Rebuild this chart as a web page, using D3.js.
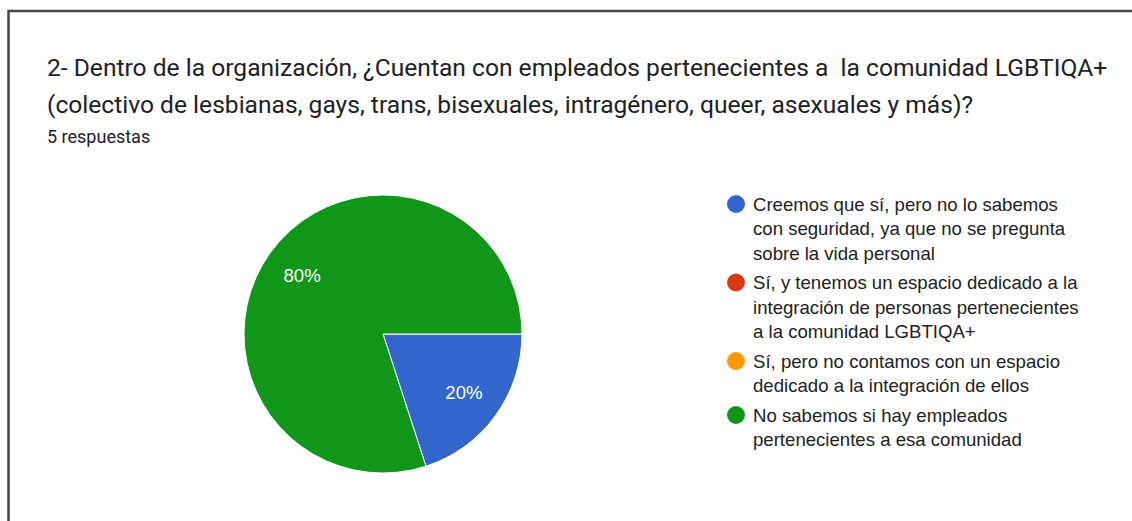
<!DOCTYPE html>
<html>
<head>
<meta charset="utf-8">
<script src="https://cdn.jsdelivr.net/npm/d3@7"></script>
<style>
  html, body { margin: 0; padding: 0; background: #fff; }
  svg { display: block; }
</style>
</head>
<body>
<svg id="chart" width="1132" height="521"></svg>
<script>
const titleLines = [
  "2- Dentro de la organización, ¿Cuentan con empleados pertenecientes a \u00a0la comunidad LGBTIQA+",
  "(colectivo de lesbianas, gays, trans, bisexuales, intragénero, queer, asexuales y más)?"
];
const subtitle = "5 respuestas";
const categories = [
  ["Creemos que sí, pero no lo sabemos", "con seguridad, ya que no se pregunta", "sobre la vida personal"],
  ["Sí, y tenemos un espacio dedicado a la", "integración de personas pertenecientes", "a la comunidad LGBTIQA+"],
  ["Sí, pero no contamos con un espacio", "dedicado a la integración de ellos"],
  ["No sabemos si hay empleados", "pertenecientes a esa comunidad"]
];
const values = [1, 0, 0, 4];
const colors = ["#3366cc", "#dc3912", "#ff9900", "#109618"];

const svg = d3.select("#chart");

// card border (left + top)
svg.append("path")
  .attr("d", "M8.5,521 L8.5,11 L1132,11")
  .attr("fill", "none")
  .attr("stroke", "#464646")
  .attr("stroke-width", 2.5);

// title
const title = svg.append("text")
  .attr("font-family", "Roboto, sans-serif")
  .attr("font-size", 24.6)
  .attr("fill", "#202124");
title.selectAll("tspan").data(titleLines).join("tspan")
  .attr("x", 47)
  .attr("y", (d, i) => 76 + i * 37)
  .text(d => d);

svg.append("text")
  .attr("x", 47).attr("y", 143)
  .attr("font-family", "Roboto, sans-serif")
  .attr("font-size", 18)
  .attr("fill", "#202124")
  .text(subtitle);

// pie
const cx = 383, cy = 334, r = 139;
const data = categories.map((c, i) => ({ label: c, value: values[i], color: colors[i] }));
const total = d3.sum(values);
const pie = d3.pie().sort(null).value(d => d.value)
  .startAngle(Math.PI / 2).endAngle(Math.PI / 2 + 2 * Math.PI);
const arcs = pie(data).filter(d => d.data.value > 0);
const arc = d3.arc().innerRadius(0).outerRadius(r);
const labelArc = d3.arc().innerRadius(100).outerRadius(100);

const g = svg.append("g").attr("transform", `translate(${cx},${cy})`);
g.selectAll("path").data(arcs).join("path")
  .attr("d", arc)
  .attr("fill", d => d.data.color)
  .attr("stroke", "#fff")
  .attr("stroke-width", 1);

g.selectAll("text").data(arcs).join("text")
  .attr("transform", d => `translate(${labelArc.centroid(d)})`)
  .attr("text-anchor", "middle")
  .attr("dy", "0.35em")
  .attr("font-family", "Arial, 'Liberation Sans', sans-serif")
  .attr("font-size", 18.6)
  .attr("fill", "#fff")
  .text(d => Math.round(d.data.value / total * 100) + "%");

// legend
const lineH = 24.5, itemGap = 5;
let y = 204;
const legend = svg.append("g");
data.forEach((d, i) => {
  legend.append("circle")
    .attr("cx", 736).attr("cy", y).attr("r", 9)
    .attr("fill", d.color);
  const t = legend.append("text")
    .attr("font-family", "Arial, 'Liberation Sans', sans-serif")
    .attr("font-size", 18.6)
    .attr("fill", "#222222");
  d.label.forEach((line, j) => {
    t.append("tspan")
      .attr("x", 753)
      .attr("y", y + j * lineH)
      .attr("dy", "0.35em")
      .text(line);
  });
  y += d.label.length * lineH + itemGap;
});
</script>
</body>
</html>
